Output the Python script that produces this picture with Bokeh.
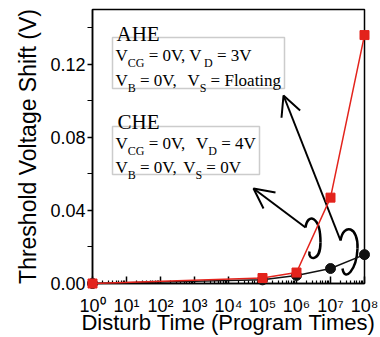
from bokeh.plotting import figure
from bokeh.models import (FixedTicker, CustomJSTickFormatter, Label,
                          BoxAnnotation, Arrow, OpenHead, Range1d)
from bokeh.embed import file_html
from bokeh.resources import INLINE

# ---------------- data ----------------
disturb_times = [1e0, 1e5, 1e6, 1e7, 1e8]
ahe_shift = [0.0, 0.003, 0.006, 0.047, 0.136]
che_shift = [0.0, 0.002, 0.0044, 0.0082, 0.0158]
y_ticks = [0.0, 0.04, 0.08, 0.12]
y_minor = [0.02, 0.06, 0.10, 0.14]
x_exponents = [0, 1, 2, 3, 4, 5, 6, 7, 8]

RED = "#e3231c"
BLACK = "#111111"

# frame placement (pixels in the 380x337 page)
FX0, FX1, FY0, FY1 = 92, 364, 283, 9
YMAX = 0.15


def dx(px):
    return 10 ** ((px - FX0) / (FX1 - FX0) * 8)


def dy(py):
    return (FY0 - py) / (FY0 - FY1) * YMAX


p = figure(width=380, height=337, x_axis_type="log",
           x_range=Range1d(1, 1e8), y_range=Range1d(0, YMAX),
           output_backend="svg", toolbar_location=None,
           min_border_left=FX0, min_border_right=380 - FX1,
           min_border_top=FY1, min_border_bottom=337 - FY0)
p.grid.visible = False
p.background_fill_color = "white"
p.border_fill_color = "white"
p.outline_line_color = "black"
p.outline_line_width = 1.5
p.outline_line_alpha = 1

# y axis
ya = p.yaxis[0]
ya.ticker = FixedTicker(ticks=y_ticks, minor_ticks=y_minor)
ya.formatter = CustomJSTickFormatter(code="return tick.toFixed(2)")
ya.major_tick_out = 5
ya.major_tick_in = 0
ya.minor_tick_out = 5
ya.minor_tick_in = 0
ya.major_label_standoff = 2
ya.axis_line_width = 1.5
ya.major_tick_line_width = 1.5
ya.minor_tick_line_width = 1.2
ya.major_label_text_font = "Liberation Sans"
ya.major_label_text_font_size = "18px"
ya.major_label_text_color = "black"
ya.axis_label = "Threshold Voltage Shift (V)"
ya.axis_label_text_font = "Liberation Sans"
ya.axis_label_text_font_size = "23px"
ya.axis_label_text_font_style = "normal"
ya.axis_label_text_color = "black"
ya.axis_label_standoff = 6

# x axis: labels 10 with superscript exponent
SUP = "⁰¹²³⁴⁵⁶⁷⁸⁹"
xa = p.xaxis[0]
xa.ticker = FixedTicker(ticks=[10 ** e for e in x_exponents],
                        minor_ticks=[k * 10 ** e for e in x_exponents[:-1] for k in range(2, 10)])
xa.formatter = CustomJSTickFormatter(
    args=dict(sup=SUP),
    code="""
const e = Math.round(Math.log10(tick));
const s = String(e).split('').map(d => sup[parseInt(d)]).join('');
return '10' + s;
""")
xa.major_tick_in = 7
xa.major_tick_out = 0
xa.minor_tick_in = 3
xa.minor_tick_out = 0
xa.axis_line_width = 1.5
xa.major_tick_line_width = 1.5
xa.minor_tick_line_width = 1.2
xa.major_label_standoff = 12
xa.major_label_text_font = "Liberation Sans"
xa.major_label_text_font_size = "18px"
xa.major_label_text_color = "black"
xa.axis_label = "Disturb Time (Program Times)"
xa.axis_label_text_font = "Liberation Sans"
xa.axis_label_text_font_size = "22px"
xa.axis_label_text_font_style = "normal"
xa.axis_label_text_color = "black"
xa.axis_label_standoff = -9

# data
p.line(disturb_times, che_shift, color=BLACK, line_width=1.5, level="overlay")
p.scatter(disturb_times, che_shift, marker="circle", size=10, color=BLACK, level="overlay")
p.line(disturb_times, ahe_shift, color=RED, line_width=1.5, level="overlay")
p.scatter(disturb_times, ahe_shift, marker="square", size=9, color=RED, level="overlay")

# annotation boxes
TNR = {' ': 250, ',': 250, '=': 564, '0': 500, '3': 500, '4': 500, 'V': 722,
       'C': 667, 'G': 722, 'D': 722, 'B': 667, 'S': 556, 'F': 556, 'l': 278,
       'o': 500, 'a': 444, 't': 278, 'i': 278, 'n': 500, 'g': 500}


def rich(x_px, y_px, segs, m=17, s=12, drop=7):
    x = x_px
    for text, sub in segs:
        size = s if sub else m
        n = len(text) - len(text.lstrip(' '))
        x += n * 0.25 * size
        t = text.lstrip(' ')
        p.add_layout(Label(x=dx(x), y=dy(y_px + (drop if sub else 0)), text=t,
                           text_font="Liberation Serif", text_font_size=f"{size}px",
                           text_baseline="alphabetic", text_align="left",
                           text_color="black"))
        x += sum(TNR[c] for c in t) * size / 1000


p.add_layout(BoxAnnotation(left=dx(112), right=dx(284), top=dy(37), bottom=dy(88),
                           fill_color="white", fill_alpha=1, line_color="#555555",
                           line_width=1.5))
p.add_layout(BoxAnnotation(left=dx(112), right=dx(259), top=dy(126), bottom=dy(174),
                           fill_color="white", fill_alpha=1, line_color="#555555",
                           line_width=1.5))
p.add_layout(Label(x=dx(116), y=dy(33), text="AHE", text_font="Liberation Serif",
                   text_font_size="21px", text_baseline="alphabetic", text_color="black"))
p.add_layout(Label(x=dx(117), y=dy(121), text="CHE", text_font="Liberation Serif",
                   text_font_size="21px", text_baseline="alphabetic", text_color="black"))

rich(115, 55, [("V", 0), ("CG", 1), (" = 0V, V", 0), ("D", 1), (" = 3V", 0)])
rich(115, 80, [("V", 0), ("B", 1), (" = 0V,", 0), ("  V", 0), ("S", 1), (" = Floating", 0)])
rich(115, 143, [("V", 0), ("CG", 1), (" = 0V,", 0), ("  V", 0), ("D", 1), (" = 4V", 0)])
rich(115, 167, [("V", 0), ("B", 1), (" = 0V,", 0), (" V", 0), ("S", 1), (" = 0V", 0)])

# arrows with curls
p.add_layout(Arrow(end=OpenHead(size=20, line_width=2, line_color="black"),
                   x_start=dx(340), y_start=dy(240), x_end=dx(283), y_end=dy(95),
                   line_width=2, line_color="black"))
p.add_layout(Arrow(end=OpenHead(size=20, line_width=2, line_color="black"),
                   x_start=dx(305), y_start=dy(227), x_end=dx(253), y_end=dy(188),
                   line_width=2, line_color="black"))

curl_x0 = [dx(305), dx(320), dx(340), dx(357)]
curl_y0 = [dy(227), dy(242), dy(240), dy(248)]
curl_x1 = [dx(320), dx(309), dx(357), dx(342)]
curl_y1 = [dy(242), dy(251), dy(248), dy(268)]
curl_cx0 = [dx(307), dx(320), dx(343), dx(356)]
curl_cy0 = [dy(212), dy(262), dy(222), dy(270)]
curl_cx1 = [dx(320), dx(307), dx(358), dx(344)]
curl_cy1 = [dy(215), dy(260), dy(226), dy(282)]
p.bezier(x0=curl_x0, y0=curl_y0, x1=curl_x1, y1=curl_y1,
         cx0=curl_cx0, cy0=curl_cy0, cx1=curl_cx1, cy1=curl_cy1,
         line_width=2.5, line_color="black")

open("out.html", "w").write(file_html(p, INLINE))
